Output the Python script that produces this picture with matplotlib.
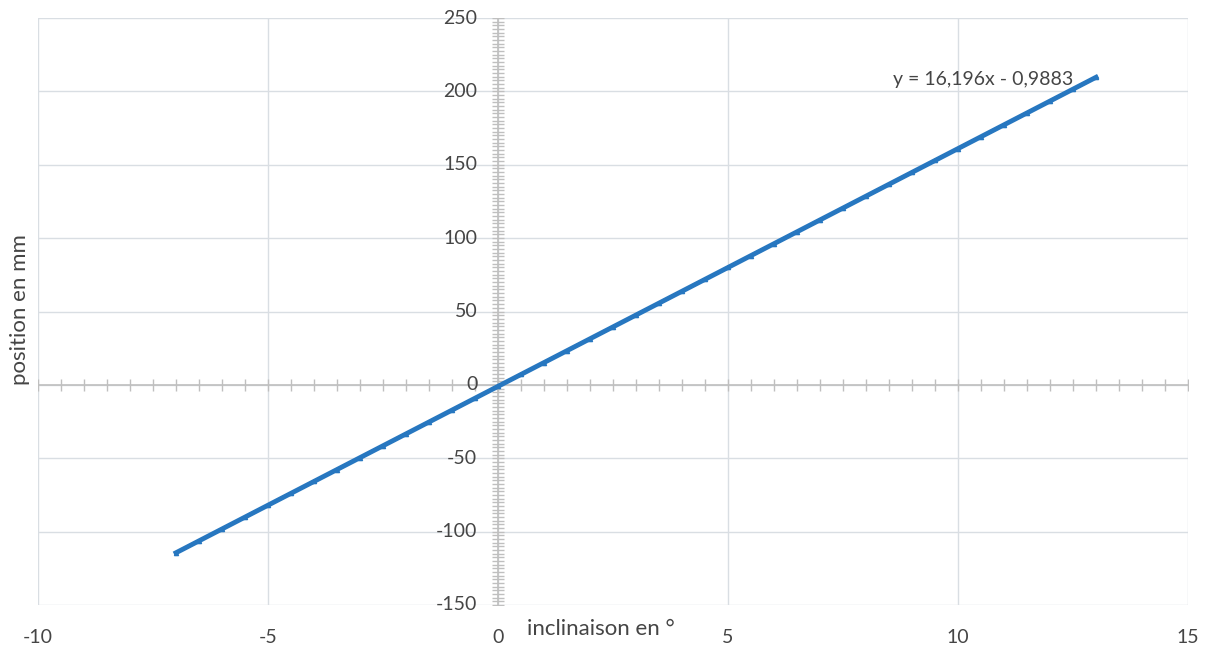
import numpy as np
import matplotlib
matplotlib.use("Agg")
import matplotlib.pyplot as plt
import matplotlib.transforms as mtransforms

# ---- data ----
inclinaison = [-7, -6.5, -6, -5.5, -5, -4.5, -4, -3.5, -3, -2.5, -2, -1.5, -1, -0.5,
               0, 0.5, 1, 1.5, 2, 2.5, 3, 3.5, 4, 4.5, 5, 5.5, 6, 6.5, 7, 7.5,
               8, 8.5, 9, 9.5, 10, 10.5, 11, 11.5, 12, 12.5, 13]
position = [-114.4, -106.3, -98.2, -90.1, -82.0, -73.9, -65.8, -57.7, -49.6, -41.5,
            -33.4, -25.3, -17.2, -9.1, -1.0, 7.1, 15.2, 23.3, 31.4, 39.5, 47.6,
            55.7, 63.8, 71.9, 80.0, 88.1, 96.2, 104.3, 112.4, 120.5, 128.6, 136.7,
            144.8, 152.9, 161.0, 169.1, 177.2, 185.3, 193.4, 201.5, 209.6]
x_ticks = [-10, -5, 0, 5, 10, 15]
y_ticks = [-150, -100, -50, 0, 50, 100, 150, 200, 250]
trend_label = "y = 16,196x - 0,9883"
x_label = "inclinaison en °"
y_label = "position en mm"

plt.rcParams['font.family'] = ['Lato', 'DejaVu Sans']
txt = '#454545'
grid_c = '#d9dee3'
axis_c = '#bfbfbf'
blue = '#2777c0'

fig = plt.figure(figsize=(12.1, 6.49), dpi=100)
ax = fig.add_axes([38/1210, 1-605/649, (1188-38)/1210, (605-18)/649])
ax.set_xlim(-10, 15)
ax.set_ylim(-150, 250)

# grid
for xv in x_ticks:
    ax.axvline(xv, color=grid_c, lw=1, zorder=0)
for yv in y_ticks:
    ax.axhline(yv, color=grid_c, lw=1, zorder=0)

for s in ax.spines.values():
    s.set_visible(False)
ax.set_xticks([]); ax.set_yticks([])

# axes lines through origin
ax.axhline(0, color=axis_c, lw=1.2, zorder=1)
ax.axvline(0, color=axis_c, lw=1.2, zorder=1)
# cross ticks
xt = np.arange(-10, 15.01, 0.5)
ax.plot(xt, np.zeros_like(xt), ls='none', marker='|', ms=9, mew=1.0, color=axis_c, zorder=1)
yt = np.arange(-150, 250.01, 2.5)
ax.plot(np.zeros_like(yt), yt, ls='none', marker='_', ms=8, mew=1.0, color=axis_c, zorder=1)

# tick labels
btrans = mtransforms.blended_transform_factory(ax.transData, ax.transAxes)
for xv in x_ticks:
    ax.text(xv, -0.055, f"{xv}", transform=btrans, ha='center', va='center',
            fontsize=14, color=txt, clip_on=False)
for yv in y_ticks:
    ax.text(-0.45, yv, f"{yv}", ha='right', va='center', fontsize=14, color=txt)

# data + trendline
ax.plot(inclinaison, position, color=blue, lw=3.5, marker='^', ms=3, zorder=3)
coef = np.polyfit(inclinaison, position, 1)
xx = np.array([min(inclinaison), max(inclinaison)])
ax.plot(xx, np.polyval(coef, xx), color=blue, lw=2, zorder=4)

ax.text(12.5, 208, trend_label, ha='right', va='center', fontsize=14, color=txt)

ax.text(601/1210, 1-629/649, x_label, transform=fig.transFigure, ha='center', va='center',
        fontsize=16, color=txt)
ax.text(20/1210, 1-310/649, y_label, transform=fig.transFigure, ha='center', va='center',
        rotation=90, fontsize=16, color=txt)

fig.savefig("out.png", dpi=100, facecolor='white')
